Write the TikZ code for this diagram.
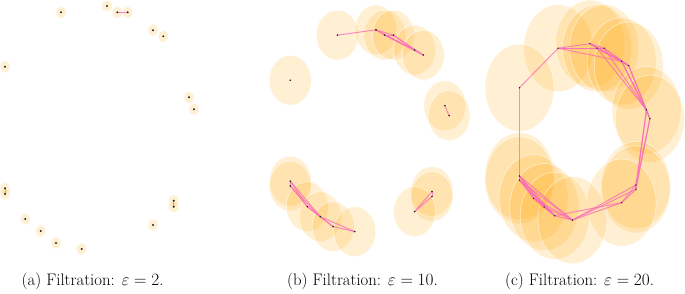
\documentclass[tikz,border=0pt]{standalone}
\definecolor{ballc}{RGB}{255,165,0}
\definecolor{edgec}{RGB}{250,105,185}
\definecolor{dotc}{RGB}{35,35,35}
\tikzset{
  ball/.style={fill=ballc,fill opacity=0.17,draw=white,draw opacity=0.7,line width=0.5bp},
  edgeline/.style={draw=edgec,line width=1bp,draw opacity=0.75},
  captext/.style={inner sep=0pt,font=\fontsize{16.8}{20}\selectfont},
}
\def\PX{{61,107,117.3,127.7,153,163.3,5,189,194,5,5,173.7,173.7,153,25.3,40.7,56,81.7}}
\def\PY{{12.3,6,12.3,12.3,30.3,36.3,66.7,97.3,109.3,188.3,194,200.7,206.7,225,219,231,243,249}}
% #1 prefix, #2 shift x, #3 shift y, #4 xscale, #5 yscale, #6 epsilon
\newcommand\filtpanel[6]{%
\begin{scope}[shift={(#2,#3)},xscale=#4,yscale=#5]
  \foreach \i in {1,...,18}{
    \pgfmathtruncatemacro\ii{\i-1}
    \pgfmathsetmacro\xx{\PX[\ii]}
    \pgfmathsetmacro\yy{\PY[\ii]}
    \coordinate (#1\i) at (\xx,\yy);
  }
  \pgfmathsetmacro\rx{2.5*#6}
  \pgfmathsetmacro\ry{3*#6}
  \foreach \i in {1,...,18}{
    \path[ball] (#1\i) circle[x radius=\rx, y radius=\ry];
  }
  \foreach \i in {1,...,17}{
    \pgfmathtruncatemacro\jj{\i+1}
    \pgfmathtruncatemacro\ii{\i-1}
    \pgfmathsetmacro\xa{\PX[\ii]}
    \pgfmathsetmacro\ya{\PY[\ii]}
    \foreach \j in {\jj,...,18}{
      \pgfmathtruncatemacro\jm{\j-1}
      \pgfmathsetmacro\xb{\PX[\jm]}
      \pgfmathsetmacro\yb{\PY[\jm]}
      \pgfmathsetmacro\dx{(\xa-\xb)/5}
      \pgfmathsetmacro\dy{(\ya-\yb)/6}
      \pgfmathsetmacro\dd{sqrt(\dx*\dx+\dy*\dy)}
      \pgfmathtruncatemacro\ok{\dd<=1.04*#6 ? 1 : 0}
      \ifnum\ok=1 \draw[edgeline] (#1\i) -- (#1\j);\fi
    }
  }
  \foreach \i in {1,...,18}{
    \fill[dotc] (#1\i) circle[radius=1.1];
  }
\end{scope}}
\begin{document}
\begin{tikzpicture}[x=1bp,y=-1bp]
\useasboundingbox (0,0) rectangle (685,293);
\filtpanel{a}{0}{0}{1}{1}{2}
\filtpanel{b}{286.1}{24.9}{0.84}{0.83}{10}
\filtpanel{c}{516.05}{39.3}{0.69}{0.726}{20}
\node[captext,anchor=base west] (capa) at (21.5,285.5) {(a) Filtration: $\varepsilon = 2$.};
\node[captext,anchor=base west] (capb) at (287,285.5) {(b) Filtration: $\varepsilon = 10$.};
\node[captext,anchor=base west] (capc) at (505,285.5) {(c) Filtration: $\varepsilon = 20$.};
\end{tikzpicture}
\end{document}
